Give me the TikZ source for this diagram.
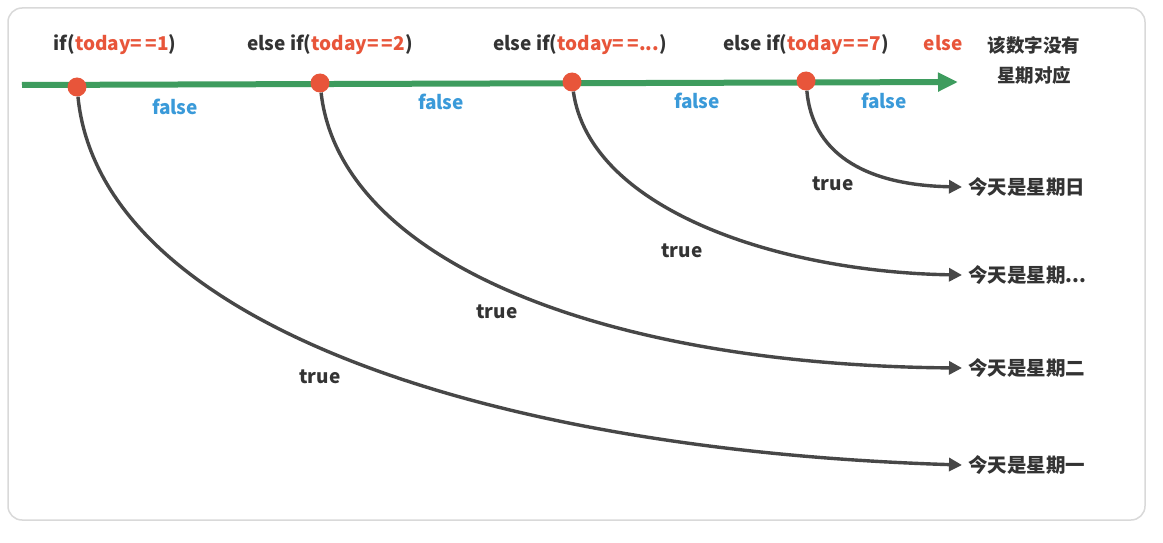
\documentclass[tikz,border=0pt]{standalone}
\usepackage{fontspec}
\setmainfont{Noto Sans CJK SC}
\usetikzlibrary{arrows.meta}
\definecolor{tx}{HTML}{333333}
\definecolor{rd}{HTML}{E8553A}
\definecolor{bl}{HTML}{3A9AD9}
\definecolor{gn}{HTML}{3E9C5E}
\begin{document}
\begin{tikzpicture}[x=1pt,y=-1pt,
  lab/.style={font=\bfseries\fontsize{19}{22}\selectfont,text=tx,inner sep=0},
  fl/.style={font=\bfseries\fontsize{19}{22}\selectfont,text=bl,inner sep=0},
  tr/.style={font=\bfseries\fontsize{19}{22}\selectfont,text=tx,inner sep=0},
  res/.style={font=\bfseries\fontsize{19.5}{22}\selectfont,text=tx,inner sep=0,anchor=west},
  dot/.style={circle,fill=rd,minimum size=19pt,inner sep=0},
  cv/.style={draw=tx!90,line width=3.4pt,-{Triangle[length=13pt,width=13pt]}}]
\useasboundingbox (0,0) rectangle (1163,543);
\fill[white] (0,0) rectangle (1163,543);
\draw[black!15,line width=1.5pt,rounded corners=14pt] (8,8) rectangle (1145,520);
\draw[gn,line width=6pt,-{Triangle[length=20pt,width=18pt]}] (22,85) -- (958,82);
\node[dot] (d1) at (77,87) {};
\node[dot] (d2) at (320,83) {};
\node[dot] (d3) at (572,82) {};
\node[dot] (d4) at (806,81) {};
\node[lab] (c1) at (115,45) {if(\textcolor{rd}{today=\,=1})};
\node[lab] (c2) at (330,45) {else if(\textcolor{rd}{today=\,=2})};
\node[lab] (c3) at (580,45) {else if(\textcolor{rd}{today=\,=...})};
\node[lab] (c4) at (806,45) {else if(\textcolor{rd}{today=\,=7})};
\node[lab,text=rd] (c5) at (943,43) {else};
\node[lab,align=center,font=\bfseries\fontsize{18.5}{30}\selectfont] (c6) at (1034,60) {该数字没有\\星期对应};
\node[fl] at (175,107) {false};
\node[fl] at (441,102) {false};
\node[fl] at (697,101) {false};
\node[fl] at (884,101) {false};
\node[res] (r1) at (968,465) {今天是星期一};
\node[res] (r2) at (968,368) {今天是星期二};
\node[res] (r3) at (968,275) {今天是星期...};
\node[res] (r4) at (968,187) {今天是星期日};
\draw[cv] (d1) .. controls (100,320) and (480,450) .. ([xshift=-6pt]r1.west);
\draw[cv] (d2) .. controls (340,260) and (600,365) .. ([xshift=-6pt]r2.west);
\draw[cv] (d3) .. controls (590,210) and (780,272) .. ([xshift=-6pt]r3.west);
\draw[cv] (d4) .. controls (812,150) and (860,185) .. ([xshift=-6pt]r4.west);
\node[tr] at (320,377) {true};
\node[tr] at (497,312) {true};
\node[tr] at (682,251) {true};
\node[tr] at (833,184) {true};
\end{tikzpicture}
\end{document}
